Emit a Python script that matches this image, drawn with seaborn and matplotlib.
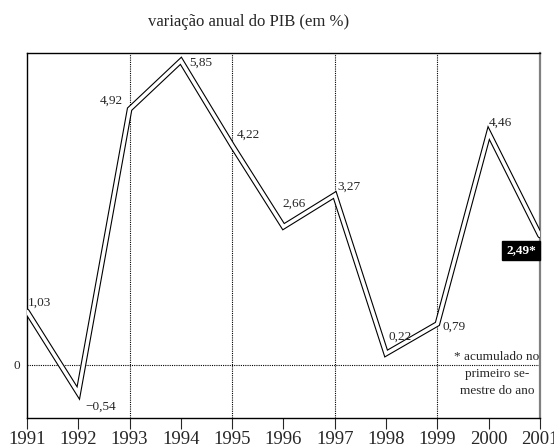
import matplotlib
matplotlib.use('Agg')
import pandas as pd
import matplotlib.pyplot as plt
import seaborn as sns

# Data
years = [1991, 1992, 1993, 1994, 1995, 1996, 1997, 1998, 1999, 2000, 2001]
pib = [1.03, -0.54, 4.92, 5.85, 4.22, 2.66, 3.27, 0.22, 0.79, 4.46, 2.49]
pib_labels = ["1,03", "\u22120,54", "4,92", "5,85", "4,22", "2,66", "3,27", "0,22", "0,79", "4,46", "2,49*"]
dotted_years = [1993, 1995, 1997, 1999]
title = "variação anual do PIB (em %)"
note = "* acumulado no\nprimeiro se-\nmestre do ano"

# label placement (pixel offsets, horizontal alignment)
label_offsets = [(1, 9), (7, -14), (-7, 8), (8, -2), (5, 11), (-1, 23),
                 (3, 8), (2, 17), (5, -3), (0, 10)]
label_ha = ['left', 'left', 'right', 'left', 'left', 'left',
            'left', 'left', 'left', 'left']

df = pd.DataFrame({'ano': years, 'pib': pib})

sns.set_style('white')
plt.rcParams['font.family'] = ['Liberation Serif', 'DejaVu Serif']

fig = plt.figure(figsize=(5.54, 4.48), dpi=100)
ax = fig.add_axes([27 / 554, 30 / 448, 513 / 554, 365 / 448])

# reference lines
for yr in dotted_years:
    ax.axvline(yr, color='black', lw=0.8, ls=(0, (1, 1)), zorder=1)
ax.axhline(0, color='black', lw=0.8, ls=(0, (1, 1)), zorder=1)

# double line: thick black with white core
sns.lineplot(data=df, x='ano', y='pib', ax=ax, color='black', lw=4.1,
             solid_joinstyle='miter', zorder=3)
sns.lineplot(data=df, x='ano', y='pib', ax=ax, color='white', lw=2.5,
             solid_joinstyle='miter', zorder=4)

for i in range(len(label_offsets)):
    ax.annotate(pib_labels[i], (years[i], pib[i]), xytext=label_offsets[i],
                textcoords='offset pixels', ha=label_ha[i], va='center',
                fontsize=9.5, zorder=5)

# last value in black box
ax.annotate(pib_labels[-1], (years[-1], pib[-1]), xytext=(-4, -9),
            textcoords='offset pixels', ha='right', va='top',
            fontsize=9.5, fontweight='bold', color='white', zorder=6,
            bbox=dict(boxstyle='square,pad=0.3', fc='black', ec='black'))

ax.text(2000.16, -0.17, note, ha='center', va='center', fontsize=9.5,
        linespacing=1.55, zorder=5)

ax.set_xlim(1991, 2001)
ax.set_ylim(-1.02, 6.0)
ax.set_xticks(years)
ax.set_xticklabels([str(y) for y in years], fontsize=13.5)
ax.set_yticks([0])
ax.set_yticklabels(['0'], fontsize=9.5)
ax.tick_params(axis='x', direction='out', length=8, width=0.8, pad=1.5, bottom=True)
ax.tick_params(axis='y', length=0, pad=5)
ax.set_xlabel('')
ax.set_ylabel('')

for side in ['left', 'top', 'bottom']:
    ax.spines[side].set_color('black')
    ax.spines[side].set_linewidth(1.0)
ax.spines['right'].set_color('#808080')
ax.spines['right'].set_linewidth(1.6)

fig.text(249 / 554, 1 - 22 / 448, title, ha='center', va='center', fontsize=12)

fig.savefig('out.png', dpi=100)
